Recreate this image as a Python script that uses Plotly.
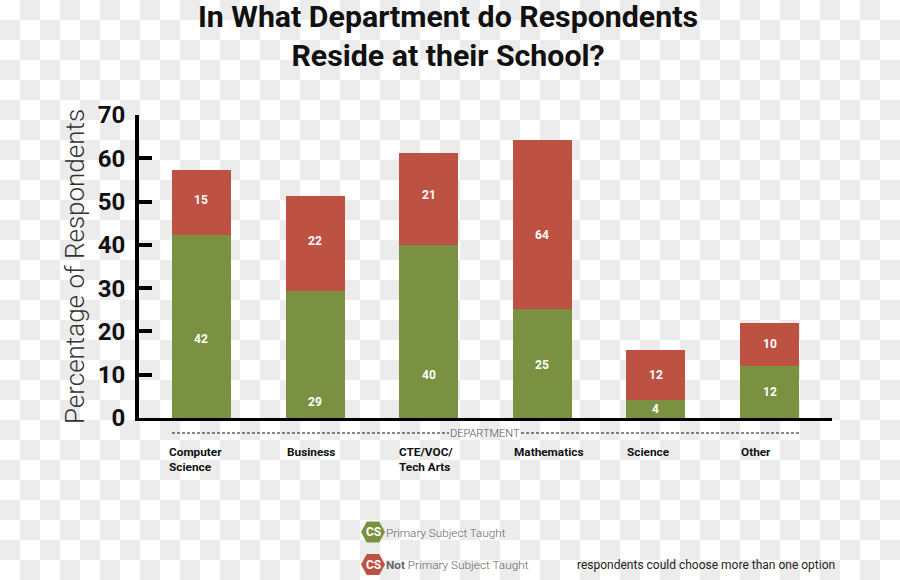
import plotly.graph_objects as go

categories = ["Computer Science", "Business", "CTE/VOC/Tech Arts", "Mathematics", "Science", "Other"]
cat_labels = ["Computer<br>Science", "Business", "CTE/VOC/<br>Tech Arts", "Mathematics", "Science", "Other"]
primary = [42.3, 29.3, 40, 25.2, 4.2, 12]
not_primary = [15, 22, 21.2, 39, 11.6, 10]
primary_text = ["42", "29", "40", "25", "4", "12"]
not_primary_text = ["15", "22", "21", "64", "12", "10"]
primary_label_y = [18.2, 3.7, 10, 12.2, 2, 6]
not_primary_label_y = [50.3, 40.9, 51.6, 42.3, 9.9, 17]
label_left_px = [167.5, 285.5, 397.5, 512.5, 625.5, 739.5]

W, H = 900, 580
L, R, T, B = 139, 832, 115, 418
GREEN, RED = "#7a9141", "#bd5142"
HEAD = "Roboto"


def px(x):
    return (x - L) / (R - L)


def py(y):
    return (B - y) / (B - T)


def rect_path(x0, y0, x1, y1):
    return f"M{px(x0)},{py(y0)}L{px(x1)},{py(y0)}L{px(x1)},{py(y1)}L{px(x0)},{py(y1)}Z"


def hexagon(cx, cy, hw, hh):
    s = hw * 0.52
    pts = [(cx - hw, cy), (cx - s, cy - hh), (cx + s, cy - hh), (cx + hw, cy), (cx + s, cy + hh), (cx - s, cy + hh)]
    return "M" + "L".join(f"{px(a)},{py(b)}" for a, b in pts) + "Z"


checker = "".join(
    rect_path(i * 20, j * 20, (i + 1) * 20, (j + 1) * 20)
    for i in range(45)
    for j in range(29)
    if (i + j) % 2 == 1
)

fig = go.Figure()
fig.add_bar(x=categories, y=primary, marker=dict(color=GREEN, line=dict(width=0)), name="Primary Subject Taught")
fig.add_bar(x=categories, y=not_primary, marker=dict(color=RED, line=dict(width=0)), name="Not Primary Subject Taught")

shapes = [
    dict(type="path", path=checker, xref="paper", yref="paper", fillcolor="#ececec", line=dict(width=0), layer="below"),
    dict(type="line", xref="paper", yref="paper", x0=px(172), x1=px(449), y0=py(433), y1=py(433),
         line=dict(color="#111", width=1, dash="3px,2px")),
    dict(type="line", xref="paper", yref="paper", x0=px(521), x1=px(799), y0=py(433), y1=py(433),
         line=dict(color="#111", width=1, dash="3px,2px")),
    dict(type="path", path=hexagon(373, 532, 12, 10.5), xref="paper", yref="paper", fillcolor=GREEN, line=dict(width=0)),
    dict(type="path", path=hexagon(373, 564.5, 12, 10.5), xref="paper", yref="paper", fillcolor=RED, line=dict(width=0)),
]

annotations = []


def note(x, y, text, size, color="#111", weight=400, xanchor="left", family=HEAD, align="left"):
    annotations.append(dict(xref="paper", yref="paper", x=px(x), y=py(y), text=text, showarrow=False,
                            xanchor=xanchor, yanchor="middle", align=align, borderpad=0, borderwidth=0,
                            font=dict(family=family, size=size, color=color, weight=weight)))


for cat, txt, yy in zip(categories, primary_text, primary_label_y):
    annotations.append(dict(x=cat, y=yy, text=txt, showarrow=False, font=dict(family=HEAD, size=12, color="white", weight=700)))
for cat, txt, yy in zip(categories, not_primary_text, not_primary_label_y):
    annotations.append(dict(x=cat, y=yy, text=txt, showarrow=False, font=dict(family=HEAD, size=12, color="white", weight=700)))
for x, txt in zip(label_left_px, cat_labels):
    annotations.append(dict(xref="paper", yref="paper", x=px(x), y=py(444), text=txt, showarrow=False,
                            xanchor="left", yanchor="top", align="left", borderpad=0,
                            font=dict(family=HEAD, size=11.8, color="#111", weight=700)))

note(484.5, 433, "DEPARTMENT", 11, "#555", 300, "center")
note(373, 532, "CS", 12, "white", 700, "center")
note(373, 564.5, "CS", 12, "white", 700, "center")
note(386, 532.5, "Primary Subject Taught", 11.7, "#666", 300)
note(386, 564.5, "<b>Not</b> Primary Subject Taught", 11.8, "#666", 300)
note(577, 565, "respondents could choose more than one option", 12, "#222", 400)

fig.update_layout(
    width=W, height=H, autosize=False,
    margin=dict(l=L, r=W - R, t=T, b=H - B, pad=0),
    paper_bgcolor="white", plot_bgcolor="rgba(0,0,0,0)",
    barmode="stack", bargap=0.48, showlegend=False,
    title=dict(text="In What Department do Respondents<br>Reside at their School?", x=448 / W, xanchor="center",
               y=1 - 27 / H, yanchor="middle", font=dict(family=HEAD, size=30.3, color="#111", weight=700)),
    xaxis=dict(range=[-0.55, 5.55], showticklabels=False, ticks="", showgrid=False, zeroline=False,
               showline=True, linecolor="#000", linewidth=3, fixedrange=True),
    yaxis=dict(range=[0, 70], tickvals=[0, 10, 20, 30, 40, 50, 60, 70], ticks="inside", ticklen=13, tickwidth=4,
               tickcolor="#000", showgrid=False, zeroline=False, showline=True, linecolor="#000", linewidth=4,
               tickfont=dict(family=HEAD, size=24, color="#111", weight=700), ticklabelstandoff=5,
               title=dict(text="Percentage of Respondents", standoff=7,
                          font=dict(family=HEAD, size=26, color="#333", weight=300))),
    shapes=shapes, annotations=annotations,
)

fig.write_html("out.html", config=dict(displayModeBar=False), post_script="document.body.style.margin='0';")
